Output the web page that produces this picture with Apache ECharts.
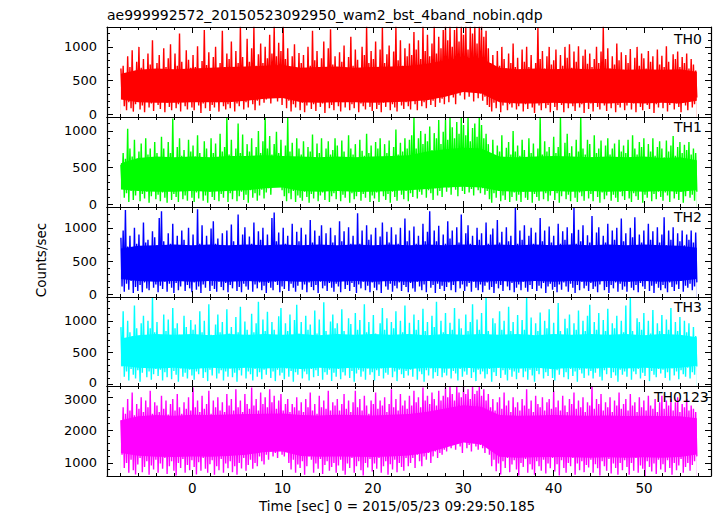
<!DOCTYPE html>
<html><head><meta charset="utf-8">
<script src="https://cdn.jsdelivr.net/npm/echarts@6/dist/echarts.min.js"></script>
<style>html,body{margin:0;padding:0;background:#fff}#c{width:717px;height:516px}</style>
</head><body><div id="c"></div>
<script>
// ---- text ----
const chartTitle = "ae999992572_20150523092950_wam2_bst_4band_nobin.qdp";
const xAxisName = "Time [sec] 0 = 2015/05/23 09:29:50.185";
const yAxisName = "Counts/sec";
const panelNames = ["TH0", "TH1", "TH2", "TH3", "TH0123"];

// ---- axes ----
const xMin = -9.44, xMax = 57.42;
const xMajorTicks = [0, 10, 20, 30, 40, 50];
const xMinorTicks = [-8, -6, -4, -2, 2, 4, 6, 8, 12, 14, 16, 18, 22, 24, 26, 28, 32, 34, 36, 38, 42, 44, 46, 48, 52, 54, 56];
const yMins = [-40, -37, -40, -27, 602];
const yMaxs = [1295, 1190, 1314, 1374, 3346];
const yMajorTicks = [[0, 500, 1000], [0, 500, 1000], [0, 500, 1000], [0, 500, 1000], [1000, 2000, 3000]];
const yMinorTicks = [
  [0, 100, 200, 300, 400, 600, 700, 800, 900, 1100, 1200],
  [0, 100, 200, 300, 400, 600, 700, 800, 900, 1100],
  [0, 100, 200, 300, 400, 600, 700, 800, 900, 1100, 1200],
  [0, 100, 200, 300, 400, 600, 700, 800, 900, 1100, 1200, 1300],
  [800, 1200, 1400, 1600, 1800, 2200, 2400, 2600, 2800, 3200]
];

// ---- time span of the light curves (peaks and troughs alternate, evenly spaced) ----
const tStart = -7.9, tEnd = 55.85;
// times of the dense-core estimates
const coreT = [-7.9, -6, -4, -2, 0, 2, 4, 6, 8, 10, 12, 14, 16, 18, 20, 22, 24, 26, 28, 30, 32, 34, 36, 38, 40, 42, 44, 46, 48, 50, 52, 54, 55.85];

// ---- TH0 (counts/sec) ----
const th0Hi = [
680,720,610,860,700,950,640,780,1000,690,820,600,900,740,1100,660,
760,880,620,980,700,830,1040,650,900,720,1200,780,640,950,810,690,
880,700,1010,640,790,1250,730,920,680,850,1000,620,760,1240,700,900,
820,1080,690,940,760,1300,850,700,1120,780,980,1300,720,890,1050,760,
1000,830,1180,900,1300,860,1060,940,1300,820,980,700,860,1040,680,910,
760,880,640,1000,720,1240,800,940,660,830,1080,700,980,1260,740,860,
690,920,780,1020,640,850,1150,720,960,810,680,1000,880,1300,760,940,
820,1080,700,960,1290,760,890,1020,680,930,1300,800,1100,720,980,860,
1050,880,1220,960,1100,820,1300,940,1180,860,1050,1300,900,1150,980,1250,
1300,1100,1300,1000,1250,1300,1080,1300,1180,1300,960,1300,1200,1300,1050,1300,
1300,1150,1240,980,760,880,640,940,720,1000,820,680,900,760,1050,700,
840,660,960,780,1000,700,880,620,760,1280,820,940,680,860,1000,740,
800,960,660,880,720,1000,840,1040,690,930,780,1010,640,870,960,750,
900,700,820,1000,760,930,1300,820,980,680,860,740,1050,800,920,660,
880,760,970,640,840,1000,720,900,830,680,940,780,860,620,960,740,
870,700,1010,780,640,890,820,930,700,850,760,900,680,820,740,650];
const th0Lo = [
260,120,60,180,90,40,150,210,70,130,30,190,100,160,50,220,
140,80,200,30,170,110,60,240,90,150,40,180,120,70,210,100,
60,190,130,20,160,90,230,50,140,100,180,40,200,120,70,150,
90,210,40,160,120,230,70,180,100,250,150,60,200,130,260,170,
220,300,160,340,250,190,310,140,270,90,200,40,150,100,220,60,
170,30,130,200,80,150,50,230,110,160,20,190,90,140,60,210,
120,40,180,100,220,60,150,90,200,30,160,120,70,240,110,50,
190,80,140,30,170,110,220,60,150,100,40,200,130,80,180,120,
70,210,150,60,240,120,180,90,260,140,200,110,280,170,230,150,
300,180,360,250,150,400,280,330,220,420,260,350,190,380,240,310,
200,260,140,110,40,170,90,210,30,130,180,60,150,100,220,70,
120,190,40,150,80,230,100,20,170,130,60,200,90,140,30,180,
110,60,210,140,30,170,90,240,120,50,180,100,150,20,200,80,
160,40,190,110,70,220,130,50,180,90,240,30,140,100,200,60,
130,220,70,160,30,190,110,60,230,140,80,170,20,150,100,210,
90,180,40,140,220,70,160,110,30,190,130,60,200,100,150,250];
const th0CoreHi = [600,660,680,670,680,690,700,710,720,730,690,700,710,690,700,710,720,750,800,840,830,690,670,680,670,680,670,680,660,670,660,670,630];
const th0CoreLo = [220,180,170,170,180,180,180,200,230,240,180,170,180,180,170,180,190,210,260,330,310,180,160,160,170,160,170,160,170,160,170,160,200];

// ---- TH1 ----
const th1Hi = [
540,700,620,1030,760,650,880,600,720,830,580,900,680,760,620,850,
700,600,920,760,640,850,700,1170,620,780,900,660,740,600,880,720,
800,650,940,700,580,860,760,620,900,700,830,640,960,720,780,1180,
680,880,620,760,1100,700,950,640,820,720,900,600,780,1000,700,860,
1190,760,930,680,820,990,700,880,640,800,1180,720,840,620,900,760,
680,860,600,780,720,950,640,830,700,900,620,760,860,680,740,900,
800,640,870,720,600,940,760,680,820,600,880,730,660,960,700,800,
620,850,760,900,640,820,700,870,600,780,1020,680,840,720,900,760,
880,940,1180,760,900,1000,820,960,860,1060,740,970,900,1150,820,990,
1150,880,1190,1050,900,1120,960,1190,1080,940,1190,860,1040,1100,920,1190,
1080,900,960,820,700,880,640,800,720,940,620,770,850,680,1000,720,
800,660,880,740,600,900,700,830,640,760,1190,680,860,720,780,640,
920,700,780,1190,640,840,960,700,790,620,880,720,1190,760,680,880,
820,640,940,700,760,870,620,800,900,680,760,830,600,880,720,800,
700,880,620,940,760,680,850,780,900,640,820,720,900,660,780,860,
760,640,870,720,800,930,660,780,850,700,810,740,850,680,760,700];
const th1Lo = [
250,90,150,30,180,60,120,200,40,140,80,170,20,110,190,70,
130,40,160,90,20,200,60,140,100,30,180,70,120,50,210,90,
30,160,80,190,50,120,20,170,100,60,210,40,140,90,180,30,
150,70,200,40,110,170,60,130,20,190,90,150,50,120,200,80,
160,220,130,250,290,280,240,190,110,40,150,70,180,30,120,90,
50,170,100,20,140,80,200,40,120,160,60,190,30,110,150,70,
180,40,130,90,200,20,150,70,110,170,50,140,90,210,30,120,
80,160,30,190,110,60,140,20,170,100,50,200,130,70,180,40,
150,100,210,80,170,130,230,90,190,150,60,220,120,180,100,240,
170,230,130,260,200,110,250,180,140,240,160,210,120,250,190,150,
220,130,180,70,20,150,90,180,40,120,60,200,30,100,160,50,
130,30,170,90,60,190,20,140,100,50,180,70,150,40,120,200,
60,150,20,110,180,70,130,40,200,90,30,160,110,50,190,80,
140,40,180,100,20,160,70,120,200,50,130,90,30,170,110,60,
190,80,30,150,110,60,180,20,130,90,210,40,140,70,170,100,
50,160,120,30,190,80,140,60,170,20,110,200,90,130,50,170];
const th1CoreHi = [560,630,650,640,650,640,660,660,670,660,650,640,650,640,650,660,670,720,750,770,760,650,640,650,660,650,640,650,640,650,630,640,600];
const th1CoreLo = [200,180,170,170,180,170,180,190,220,230,180,170,180,170,170,180,190,210,230,240,230,180,170,170,180,170,180,170,180,170,180,170,190];

// ---- TH2 ----
const th2Hi = [
850,960,1270,720,880,680,1000,760,900,640,1080,780,820,700,950,860,
740,1150,1250,800,680,920,760,1060,700,880,640,960,820,740,1000,700,
900,680,1280,760,1040,700,880,620,990,1100,760,840,680,920,720,960,
680,1050,800,700,1200,740,900,1010,660,870,760,1080,700,950,820,1000,
720,900,680,1150,1230,800,930,700,1000,760,880,640,1060,740,940,800,
1000,700,900,660,1120,780,960,680,880,1040,720,920,660,1000,780,890,
700,1100,800,950,680,1010,760,880,660,1220,760,960,700,1040,820,900,
680,1000,740,870,1080,700,940,780,1010,660,900,760,1000,720,1140,800,
960,700,1020,760,880,660,1060,800,940,1250,720,960,800,1030,700,900,
760,1100,840,960,700,1010,780,1200,720,920,1040,760,880,680,1000,820,
920,700,1080,760,900,990,680,1120,780,940,700,1010,800,880,720,1300,
760,960,820,1040,680,880,1000,760,930,680,1150,800,960,720,1020,780,
880,700,1060,760,950,820,1010,700,920,1300,760,970,800,1040,700,890,
780,1180,720,930,1010,680,880,780,1060,700,960,820,1000,740,1140,800,
920,700,1000,860,1160,720,900,780,960,700,1060,820,950,700,1010,780,
900,1160,740,960,820,1010,700,920,800,960,740,900,820,960,780,930];
const th2Lo = [
120,40,160,70,200,20,110,50,140,30,180,90,60,210,100,150,
30,130,80,190,40,160,100,20,170,60,120,220,50,140,90,30,
180,70,120,20,150,100,210,50,130,80,40,190,110,60,170,30,
140,90,200,50,110,30,160,120,70,220,40,150,90,180,60,130,
20,170,100,60,190,140,30,120,80,210,50,160,100,40,130,200,
70,150,30,180,110,60,140,20,190,90,130,50,170,100,40,160,
120,30,200,80,140,50,170,110,20,150,90,190,60,130,30,180,
100,60,150,20,210,120,70,160,40,130,90,180,50,140,110,30,
170,90,40,190,120,60,150,30,200,100,140,20,160,80,130,50,
110,180,60,140,30,200,90,150,50,120,170,40,190,100,60,150,
30,130,180,70,110,20,160,90,140,50,200,120,60,170,30,100,
150,60,190,100,40,140,80,210,50,130,90,170,20,120,160,70,
110,30,150,70,180,120,40,160,100,20,140,60,190,90,130,50,
170,80,120,30,150,200,60,110,20,140,90,180,40,160,70,120,
40,190,100,60,140,30,170,120,80,210,50,130,20,160,100,60,
140,90,30,180,110,50,150,80,200,40,130,100,160,60,120,180];
const th2CoreHi = [690,730,740,750,740,750,740,750,740,750,740,750,740,750,740,750,740,750,740,750,740,750,740,750,740,750,740,750,740,750,740,730,700];
const th2CoreLo = [230,200,190,200,190,200,190,200,190,200,190,200,190,200,190,200,190,200,190,200,190,200,190,200,190,200,190,200,190,200,190,200,230];

// ---- TH3 ----
const th3Hi = [
900,1150,700,1000,820,760,1240,880,690,960,1080,740,1000,880,1370,820,
980,700,760,1100,840,1020,720,1200,880,960,780,650,1080,900,760,1010,
860,940,700,1150,820,1000,760,1260,780,690,940,1100,820,980,720,1180,
800,900,680,1060,820,1220,740,990,860,700,1110,820,960,1300,720,1020,
840,1140,700,980,860,760,1070,1200,720,960,840,1100,680,1010,1250,800,
980,720,1080,860,940,700,1160,800,1020,760,1290,840,690,990,1100,880,
960,700,1180,840,760,1040,950,680,1120,860,1010,740,1260,820,980,720,
1090,800,700,960,1200,860,1040,720,980,880,1150,700,1000,820,1240,760,
970,720,1100,860,1010,680,1190,840,980,760,1080,900,1300,740,1000,820,
1120,700,970,860,1200,760,1030,880,690,1100,840,980,1260,720,1020,860,
1120,760,1370,840,700,1040,960,720,1150,860,1000,680,1220,840,980,740,
1090,700,1010,860,1370,780,1050,690,960,840,1130,760,1000,880,1180,720,
970,760,1280,840,690,1030,880,1100,720,960,860,1160,700,1000,840,1080,
1250,720,980,860,1120,680,1010,840,1190,760,960,880,1080,700,1000,820,
1240,760,1370,840,700,1040,980,860,1120,720,1000,800,1170,690,960,840,
1090,720,1020,860,1200,760,980,840,1060,700,1000,820,960,740,900,760];
const th3Lo = [
280,120,200,60,240,150,90,220,40,180,260,110,200,70,160,240,
130,230,60,190,110,270,80,210,150,40,250,120,180,90,230,140,
70,200,160,260,100,190,50,230,140,280,90,170,220,60,200,120,
250,110,180,40,220,140,270,90,200,160,60,240,120,190,80,230,
150,260,100,200,50,230,140,180,80,250,120,210,40,190,150,270,
90,200,160,60,240,110,220,130,280,70,190,150,230,50,180,120,
240,80,190,140,260,100,210,40,170,230,120,200,70,250,150,190,
60,220,130,250,90,180,150,270,110,200,50,230,160,100,210,140,
230,120,260,70,200,160,40,220,140,250,90,190,130,270,110,180,
140,250,90,210,170,60,240,120,200,150,280,100,190,50,230,160,
200,90,160,240,40,190,130,260,100,220,150,60,230,120,200,80,
180,250,110,200,70,230,140,40,210,160,260,90,190,130,240,100,
60,220,150,270,110,190,80,240,130,200,40,230,170,100,250,140,
210,90,180,250,120,60,220,160,270,100,190,140,40,230,150,200,
120,260,70,200,160,240,90,180,130,270,50,210,150,110,240,170,
230,100,190,60,250,140,200,80,220,160,120,260,90,190,150,280];
const th3CoreHi = [720,770,790,780,790,770,790,780,790,780,790,770,790,780,790,780,790,770,790,780,790,780,790,770,790,780,790,780,790,770,790,780,740];
const th3CoreLo = [290,260,250,260,240,260,250,260,250,260,240,260,250,260,250,260,240,260,250,260,250,260,250,260,240,260,250,260,250,260,250,260,290];

// ---- TH0123 ----
const th0123Hi = [
2300,2700,2500,2950,2600,3150,2450,2800,2650,3000,2550,2900,2700,3200,2500,2850,
2750,2550,3050,2650,2900,2480,2800,2950,2600,3100,2700,2500,2850,2650,3000,2600,
3300,2700,2900,2550,3050,2650,2800,3200,2500,2900,2700,3000,2600,2850,2550,3100,
2750,2950,2600,3250,2700,2900,2550,3100,2800,2650,3300,2750,2950,2600,3150,2800,
3000,2700,3250,2850,3050,2650,2900,3100,2600,2800,2950,2550,2800,2700,3000,2600,
2850,2550,2950,2700,3150,2600,2800,2500,3050,2700,2900,2650,3200,2600,2850,2750,
2950,2600,2800,3100,2650,2900,2550,2850,3200,2700,2950,2600,3050,2750,2500,2900,
2800,3150,2650,2900,2750,3000,2550,2800,3250,2700,2950,2600,3100,2750,2900,2650,
3050,2750,3200,2850,3000,2700,3300,2900,3050,2800,3150,2950,2750,3200,2900,3050,
3300,3000,3340,3100,2900,3340,3150,3000,3340,3100,3250,2950,3340,3100,3200,3340,
3050,3250,2900,3100,2700,2950,2600,2850,3000,2650,3150,2750,2900,2550,3000,2700,
2850,2600,2950,2750,3250,2650,2900,2550,3050,2800,2700,3000,2600,2850,2950,2650,
3200,2700,2900,2600,3050,2750,2550,2950,2800,3150,2650,2900,2700,3000,2550,2850,
2750,3340,2650,2950,2800,3100,2600,2850,2700,3000,2550,2900,2750,3150,2650,2800,
2950,2600,3100,2750,2850,2550,3000,2700,2900,2600,3050,2750,2650,2950,2550,2850,
3050,2650,2900,2750,2950,2600,2850,3000,2550,2800,2700,2950,2600,2750,2650,2550];
const th0123Lo = [
1250,850,1000,700,1100,780,650,950,1150,720,880,1050,640,920,800,1100,
700,980,820,1150,660,900,1050,760,620,1000,850,1120,700,940,780,1080,
880,650,1020,760,1150,820,700,960,1080,640,900,780,1120,700,980,840,
1050,720,900,640,1000,830,1150,760,940,1100,820,1000,900,1200,1050,950,
1250,1100,1350,1200,1300,1150,1400,1250,1200,1350,1000,800,1100,700,950,850,
1050,640,900,1200,1100,700,980,820,1120,660,940,1050,760,880,1000,700,
920,1100,760,640,980,850,1150,700,900,1050,780,620,1000,860,1120,740,
980,820,1150,700,900,1050,640,960,800,1100,720,1000,880,760,1150,900,
1000,1150,850,1250,1050,900,1200,1100,1300,1000,1200,1350,1150,1300,1250,1400,
1350,1550,1450,1650,1400,1600,1500,1300,1650,1450,1550,1350,1600,1500,1400,1550,
1450,1300,1500,1250,900,1100,750,980,650,1050,850,1150,720,950,1080,800,
620,1000,880,1120,700,960,800,640,1050,900,760,1100,680,980,840,1150,
740,960,620,1080,850,700,1000,900,1150,640,980,780,1050,720,940,860,
1100,700,960,840,620,1050,900,760,1120,680,980,850,640,1000,780,1080,
880,640,1000,760,1150,700,920,820,600,1050,880,740,980,660,1100,800,
960,720,1080,850,640,1000,780,920,1120,700,880,1000,760,940,1050,1200];
const th0123CoreHi = [2300,2420,2460,2440,2470,2460,2480,2490,2500,2510,2460,2450,2470,2460,2450,2470,2490,2560,2660,2760,2710,2460,2440,2450,2460,2450,2440,2450,2430,2440,2430,2420,2360];
const th0123CoreLo = [1300,1220,1190,1180,1200,1190,1210,1250,1330,1350,1210,1190,1200,1190,1180,1200,1230,1310,1460,1620,1560,1190,1160,1170,1180,1170,1160,1170,1160,1170,1160,1180,1260];

const panels = [
  {hi: th0Hi, lo: th0Lo, cHi: th0CoreHi, cLo: th0CoreLo},
  {hi: th1Hi, lo: th1Lo, cHi: th1CoreHi, cLo: th1CoreLo},
  {hi: th2Hi, lo: th2Lo, cHi: th2CoreHi, cLo: th2CoreLo},
  {hi: th3Hi, lo: th3Lo, cHi: th3CoreHi, cLo: th3CoreLo},
  {hi: th0123Hi, lo: th0123Lo, cHi: th0123CoreHi, cLo: th0123CoreLo}
];

// ---- layout / style ----
const colors = ["#ff0000", "#00ff00", "#0000ff", "#00ffff", "#ff00ff"];
const gridTops = [27, 117, 207, 297, 386];
const gridHeights = [90, 90, 90, 89, 90];
const FONT = "DejaVu Sans";
const AX = '#000';
const plain = v => String(v);
// the two neighbouring labels at the TH3 / TH0123 boundary get a tiny nudge apart
const labelFormatters = [plain, plain, plain,
  v => (v === 0 ? '{up|0}' : String(v)),
  v => (v === 3000 ? '{dn|3000}' : String(v))];
const labelRich = {
  up: {fontFamily: FONT, fontSize: 13, color: '#000', padding: [0, 0, 4, 0]},
  dn: {fontFamily: FONT, fontSize: 13, color: '#000', padding: [4, 0, 0, 0]}
};

const grids = [], xAxes = [], yAxes = [], series = [];
panels.forEach((p, k) => {
  grids.push({left: 107, width: 604, top: gridTops[k], height: gridHeights[k]});
  const isLast = k === panels.length - 1;
  const xBase = {type: 'value', gridIndex: k, min: xMin, max: xMax, z: 10, splitLine: {show: false},
    axisLine: {show: false, onZero: false}, axisLabel: {show: false}, axisTick: {show: false}};
  xAxes.push(Object.assign({}, xBase, {position: 'bottom',
    axisLine: {show: true, onZero: false, lineStyle: {color: AX, width: 1.2}},
    axisTick: {show: true, inside: true, length: 6, customValues: xMajorTicks, lineStyle: {color: AX, width: 1}},
    axisLabel: {show: isLast, customValues: xMajorTicks, formatter: plain, margin: 5, fontFamily: FONT, fontSize: 13.5, color: '#000'}}));
  xAxes.push(Object.assign({}, xBase, {position: 'bottom',
    axisTick: {show: true, inside: true, length: 3, customValues: xMinorTicks, lineStyle: {color: AX, width: 1}}}));
  xAxes.push(Object.assign({}, xBase, {position: 'top',
    axisLine: {show: true, onZero: false, lineStyle: {color: AX, width: 1.2}},
    axisTick: {show: true, inside: true, length: 6, customValues: xMajorTicks, lineStyle: {color: AX, width: 1}}}));
  xAxes.push(Object.assign({}, xBase, {position: 'top',
    axisTick: {show: true, inside: true, length: 3, customValues: xMinorTicks, lineStyle: {color: AX, width: 1}}}));
  const yBase = {type: 'value', gridIndex: k, min: yMins[k], max: yMaxs[k], z: 10, splitLine: {show: false},
    axisLine: {show: false, onZero: false}, axisLabel: {show: false}, axisTick: {show: false}};
  yAxes.push(Object.assign({}, yBase, {position: 'left',
    axisLine: {show: true, onZero: false, lineStyle: {color: AX, width: 1.2}},
    axisTick: {show: true, inside: true, length: 6, customValues: yMajorTicks[k], lineStyle: {color: AX, width: 1}},
    axisLabel: {show: true, customValues: yMajorTicks[k], formatter: labelFormatters[k], rich: labelRich,
      margin: 10, fontFamily: FONT, fontSize: 13, color: '#000'}}));
  yAxes.push(Object.assign({}, yBase, {position: 'left',
    axisTick: {show: true, inside: true, length: 3, customValues: yMinorTicks[k], lineStyle: {color: AX, width: 1}}}));
  yAxes.push(Object.assign({}, yBase, {position: 'right',
    axisLine: {show: true, onZero: false, lineStyle: {color: AX, width: 1.2}},
    axisTick: {show: true, inside: true, length: 6, customValues: yMajorTicks[k], lineStyle: {color: AX, width: 1}}}));
  yAxes.push(Object.assign({}, yBase, {position: 'right',
    axisTick: {show: true, inside: true, length: 3, customValues: yMinorTicks[k], lineStyle: {color: AX, width: 1}}}));

  const xi = k * 4, yi = k * 4;
  // dense core: coloured up to its upper bound, then white below its lower bound
  series.push({type: 'line', xAxisIndex: xi, yAxisIndex: yi, symbol: 'none', silent: true,
    lineStyle: {width: 0, opacity: 0}, areaStyle: {color: colors[k], opacity: 1, origin: 'start'},
    data: coreT.map((t, i) => [t, p.cHi[i]])});
  series.push({type: 'line', xAxisIndex: xi, yAxisIndex: yi, symbol: 'none', silent: true,
    lineStyle: {width: 0, opacity: 0}, areaStyle: {color: '#fff', opacity: 1, origin: 'start'},
    data: coreT.map((t, i) => [t, p.cLo[i]])});
  // light curve: alternating peaks and troughs
  const n = Math.min(p.hi.length, p.lo.length);
  const dt = (tEnd - tStart) / (2 * n - 1);
  const pts = [];
  for (let i = 0; i < n; i++) {
    pts.push([tStart + 2 * i * dt, p.hi[i]]);
    pts.push([tStart + (2 * i + 1) * dt, p.lo[i]]);
  }
  series.push({type: 'line', xAxisIndex: xi, yAxisIndex: yi, symbol: 'none', silent: true,
    lineStyle: {color: colors[k], width: 1.4}, data: pts});
});

const labelY = [39, 127, 217, 307, 397];
const labelX = [674, 674, 674, 674, 654];
const graphics = [
  {type: 'text', left: 107, top: 8, style: {text: chartTitle, font: '14px "' + FONT + '"', fill: '#000'}},
  {type: 'text', x: 41, y: 260, rotation: Math.PI / 2, style: {text: yAxisName, font: '13.5px "' + FONT + '"', fill: '#000', align: 'center', verticalAlign: 'middle'}},
  {type: 'text', x: 397, y: 506, style: {text: xAxisName, font: '13.5px "' + FONT + '"', fill: '#000', align: 'center', verticalAlign: 'middle'}}
];
panelNames.forEach((nm, k) => graphics.push({type: 'text', x: labelX[k], y: labelY[k], z: 100,
  style: {text: nm, font: '14px "' + FONT + '"', fill: '#000', align: 'left', verticalAlign: 'middle'}}));

const chart = echarts.init(document.getElementById('c'), null, {renderer: 'svg'});
chart.setOption({animation: false, backgroundColor: '#fff', grid: grids, xAxis: xAxes, yAxis: yAxes, series: series, graphic: graphics});
</script></body></html>
